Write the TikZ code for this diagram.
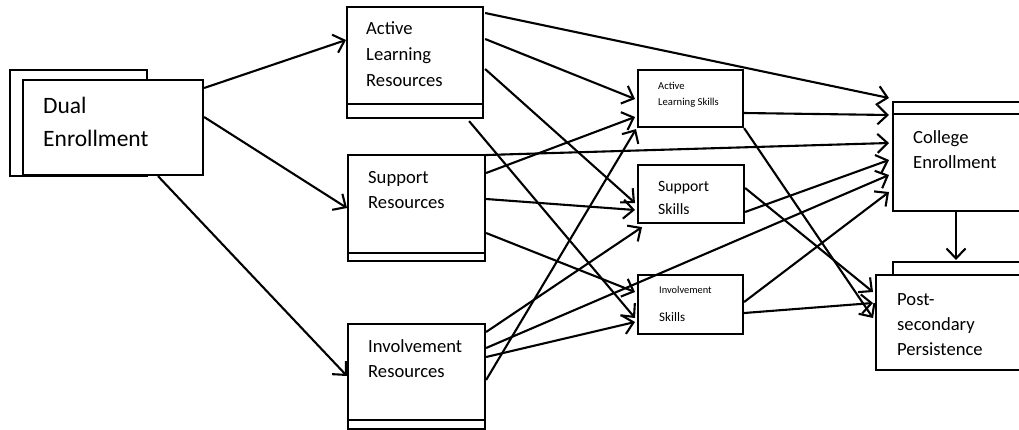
\documentclass[tikz,border=0pt]{standalone}
\usepackage{fontspec}
\setmainfont{Carlito}
\usetikzlibrary{arrows.meta,calc}
\begin{document}
\begin{tikzpicture}[x=1pt,y=-1pt,
  box/.style={draw, line width=2.1pt, fill=white, inner sep=0pt, anchor=north west},
  strip/.style={line width=2.1pt},
  lbl/.style={anchor=base west, inner sep=0pt, align=left},
  conn/.style={line width=2.1pt, -{Straight Barb[length=10pt,width=19pt,line width=2.1pt]}}]
\clip (0,0) rectangle (1019,429);
\fill[white] (0,0) rectangle (1019,429);
% Dual enrollment
\node[box, minimum width=137pt, minimum height=106pt] (DEb) at (9,69) {};
\node[box, minimum width=180pt, minimum height=95pt] (DE) at (22,79) {};
\node[lbl, font=\fontsize{23.5}{33}\selectfont] (DEt) at (43,146) {Dual\\Enrollment};
% resources
\node[box, minimum width=136pt, minimum height=111pt] (ALR) at (346,6) {};
\draw[strip] ($(ALR.south west)+(0,-15)$) -- ($(ALR.south east)+(0,-15)$);
\node[lbl, font=\fontsize{18.6}{26}\selectfont] (ALRt) at (366,86) {Active\\Learning\\Resources};
\node[box, minimum width=137pt, minimum height=106pt] (SR) at (347,154) {};
\draw[strip] ($(SR.south west)+(0,-9)$) -- ($(SR.south east)+(0,-9)$);
\node[lbl, font=\fontsize{18.6}{25}\selectfont] (SRt) at (368,208) {Support\\Resources};
\node[box, minimum width=137pt, minimum height=105pt] (IR) at (347,323) {};
\draw[strip] ($(IR.south west)+(0,-10)$) -- ($(IR.south east)+(0,-10)$);
\node[lbl, font=\fontsize{18.6}{25}\selectfont] (IRt) at (368,377) {Involvement\\Resources};
% skills
\node[box, minimum width=105pt, minimum height=57pt] (ALS) at (637,69) {};
\node[lbl, font=\fontsize{10.6}{16}\selectfont] (ALSt) at (658,105) {Active\\Learning Skills};
\node[box, minimum width=106pt, minimum height=58pt] (SS) at (637,164) {};
\begin{scope}
\clip (640,166) rectangle (740,213);
\node[lbl, font=\fontsize{15.7}{23}\selectfont] (SSt) at (658,214) {Support\\Skills};
\end{scope}
\node[box, minimum width=105pt, minimum height=59pt] (IS) at (637,274) {};
\node[lbl, font=\fontsize{10.4}{12}\selectfont] (ISt1) at (659,293) {Involvement};
\node[lbl, font=\fontsize{13}{16}\selectfont] (ISt2) at (659,321) {Skills};
% outcomes
\node[box, minimum width=140pt, minimum height=109pt] (CE) at (892,101) {};
\draw[strip] ($(CE.north west)+(0,13)$) -- ($(CE.north east)+(0,13)$);
\node[lbl, font=\fontsize{18.6}{25}\selectfont] (CEt) at (913,168) {College\\Enrollment};
\node[box, minimum width=140pt, minimum height=30pt] (PSb) at (892,261) {};
\node[box, minimum width=160pt, minimum height=95pt] (PS) at (875,274) {};
\node[lbl, font=\fontsize{18.6}{25}\selectfont] (PSt) at (897,355) {Post-\\secondary\\Persistence};
% connectors
\draw[conn] ($(DE.north east)+(0,9)$) -- ($(ALR.north west)+(0,34)$);
\draw[conn] ($(DE.north east)+(0,38)$) -- ($(SR.north west)+(0,54)$);
\draw[conn] ($(DE.south west)+(136,0)$) -- ($(IR.north west)+(0,53)$);
\draw[conn] ($(ALR.north east)+(1,7)$) -- ($(CE.north west)+(-3,-3)$);
\draw[conn] ($(ALR.north east)+(1,33)$) -- ($(ALS.north west)+(-2,30)$);
\draw[conn] ($(ALR.north east)+(1,63)$) -- ($(SS.north west)+(-2,39)$);
\draw[conn] ($(ALR.south east)+(-15,2)$) -- ($(IS.north west)+(-2,44)$);
\draw[conn] ($(SR.north east)+(0,1)$) -- ($(CE.north west)+(-3,42)$);
\draw[conn] ($(SR.north east)+(0,19)$) -- ($(ALS.north west)+(-2,48)$);
\draw[conn] ($(SR.north east)+(0,45)$) -- ($(SS.north west)+(-2,46)$);
\draw[conn] ($(SR.north east)+(0,79)$) -- ($(IS.north west)+(-2,18)$);
\draw[conn] ($(IR.north east)+(0,57)$) -- ($(ALS.south west)+(-1,1)$);
\draw[conn] ($(IR.north east)+(0,9)$) -- ($(SS.south west)+(5,3)$);
\draw[conn] ($(IR.north east)+(0,25)$) -- ($(CE.north west)+(-3,74)$);
\draw[conn] ($(IR.north east)+(0,34)$) -- ($(IS.north west)+(-2,48)$);
\draw[conn] ($(ALS.north east)+(0,44)$) -- ($(CE.north west)+(-3,14)$);
\draw[conn] (ALS.south east) -- ($(PS.north west)+(-2,44)$);
\draw[conn] ($(SS.north east)+(0,48)$) -- ($(CE.north west)+(-3,59)$);
\draw[conn] ($(SS.north east)+(0,24)$) -- ($(PS.north west)+(-2,18)$);
\draw[conn] ($(IS.north east)+(0,28)$) -- ($(CE.north west)+(-3,91)$);
\draw[conn] ($(IS.north east)+(0,39)$) -- ($(PS.north west)+(-2,29)$);
\draw[conn] ($(CE.south west)+(64,0)$) -- ($(PSb.north west)+(64,-1)$);
\end{tikzpicture}
\end{document}
